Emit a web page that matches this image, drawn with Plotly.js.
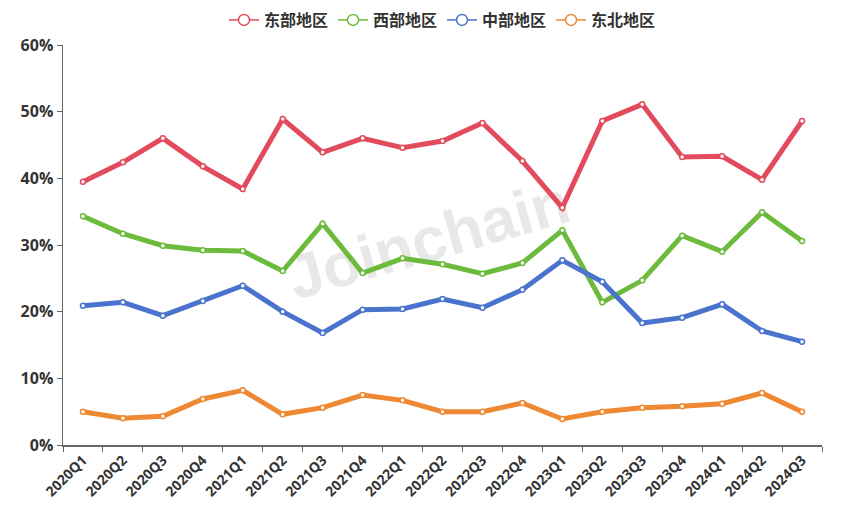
<!DOCTYPE html>
<html>
<head>
<meta charset="utf-8">
<script src="https://cdn.plot.ly/plotly-3.0.1.min.js"></script>
<style>
  body { margin: 0; background: #fff; }
  #wrap { position: relative; width: 864px; height: 523px; }
  #mark {
    position: absolute; left: 284px; top: 206px; width: 282px; text-align: center;
    font-family: 'Liberation Sans', Arial, sans-serif; font-weight: bold; font-size: 62px;
    line-height: 70px; color: #e8e8e8; transform: rotate(-16deg); transform-origin: center;
    white-space: nowrap; z-index: 0;
  }
  #chart { position: absolute; left: 0; top: 0; z-index: 1; }
</style>
</head>
<body>
<div id="wrap">
  <div id="mark">Joinchain</div>
  <div id="chart"></div>
</div>
<script>
// quarters on the x axis
var quarters = ['2020Q1','2020Q2','2020Q3','2020Q4','2021Q1','2021Q2','2021Q3','2021Q4',
	'2022Q1','2022Q2','2022Q3','2022Q4','2023Q1','2023Q2','2023Q3','2023Q4',
	'2024Q1','2024Q2','2024Q3'];

// share of each region, %
var east = [39.5, 42.4, 46.0, 41.8, 38.4, 48.9, 43.9, 46.0, 44.6, 45.6, 48.3, 42.6,
	35.6, 48.6, 51.1, 43.2, 43.3, 39.8, 48.6];
var west = [34.3, 31.7, 29.9, 29.2, 29.1, 26.1, 33.2, 25.8, 28.0, 27.1, 25.7, 27.3,
	32.2, 21.4, 24.7, 31.4, 29.0, 34.9, 30.6];
var central = [20.9, 21.4, 19.4, 21.6, 23.9, 20.0, 16.8, 20.3, 20.4, 21.9, 20.6, 23.3,
	27.7, 24.5, 18.3, 19.1, 21.1, 17.1, 15.5];
var northeast = [5.0, 4.0, 4.3, 6.9, 8.2, 4.6, 5.6, 7.5, 6.7, 5.0, 5.0, 6.3,
	3.9, 5.0, 5.6, 5.8, 6.2, 7.8, 5.0];

var names = ['东部地区', '西部地区', '中部地区', '东北地区'];
var colors = ['#E24B5D', '#6CBB3C', '#4A73CD', '#EE8833'];
var series = [east, west, central, northeast];

var data = [];
series.forEach(function (vals, i) {
	data.push({
		x: quarters,
		y: vals,
		name: names[i],
		legendgroup: names[i],
		showlegend: false,
		type: 'scatter',
		mode: 'lines+markers',
		line: { color: colors[i], width: 5 },
		marker: { size: 5, color: '#ffffff', line: { color: colors[i], width: 1.5 } },
		hoverinfo: 'none'
	});
});
// legend entries: thin line with a hollow circle
series.forEach(function (vals, i) {
	data.push({
		x: [quarters[0]],
		y: [null],
		name: names[i],
		legendgroup: names[i],
		type: 'scatter',
		mode: 'lines+markers',
		line: { color: colors[i], width: 1.5 },
		marker: { size: 11, color: '#ffffff', line: { color: colors[i], width: 1.5 } },
		hoverinfo: 'none'
	});
});

var layout = {
	width: 864,
	height: 523,
	paper_bgcolor: 'rgba(0,0,0,0)',
	plot_bgcolor: 'rgba(0,0,0,0)',
	margin: { l: 63, r: 42, t: 45, b: 78, autoexpand: false },
	showlegend: true,
	legend: {
		orientation: 'h',
		x: 0.5,
		xanchor: 'center',
		y: 1.0625,
		yanchor: 'middle',
		font: { family: 'Noto Sans CJK SC', size: 16, color: '#333', weight: 'bold' },
		itemwidth: 30,
		tracegroupgap: 0
	},
	xaxis: {
		type: 'category',
		range: [-0.5, 18.5],
		showgrid: false,
		zeroline: false,
		showline: true,
		linecolor: '#666',
		linewidth: 1.5,
		ticks: 'outside',
		tickson: 'boundaries',
		ticklen: 5,
		tickcolor: '#666',
		tickangle: -45,
		tickfont: { family: 'Open Sans', size: 14, color: '#333', weight: 'bold' }
	},
	yaxis: {
		range: [0, 60],
		dtick: 10,
		ticksuffix: '%',
		showgrid: false,
		zeroline: false,
		showline: true,
		linecolor: '#666',
		linewidth: 1.5,
		ticks: 'outside',
		ticklen: 5,
		tickcolor: '#666',
		tickfont: { family: 'Open Sans', size: 16, color: '#333', weight: 'bold' }
	}
};

Plotly.newPlot('chart', data, layout, { displayModeBar: false, staticPlot: true });
</script>
</body>
</html>
